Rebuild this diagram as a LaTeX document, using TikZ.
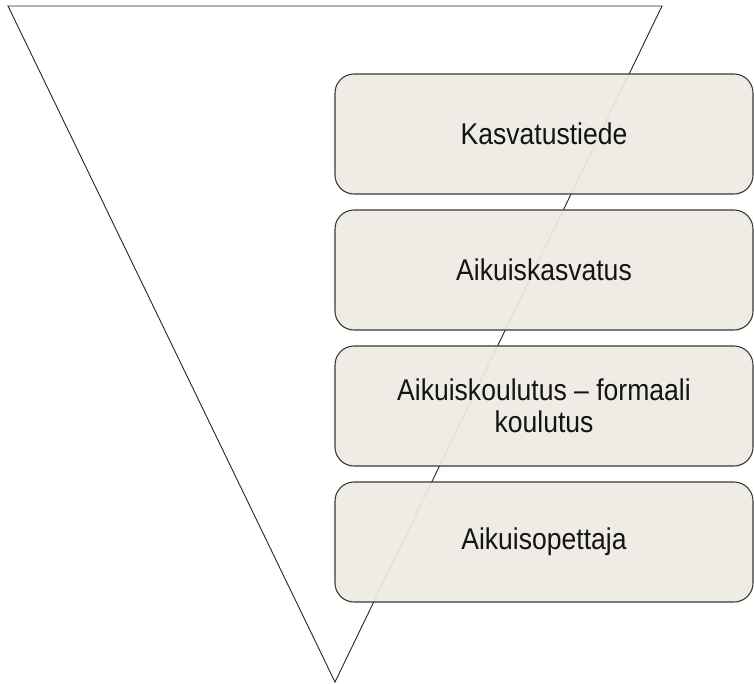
\documentclass[tikz,border=0pt]{standalone}
\usepackage{fontspec}
\newfontfamily\boxfont[FakeStretch=0.885]{Liberation Sans}
\begin{document}
\begin{tikzpicture}[x=1pt,y=-1pt,
  funnel/.style={draw=black!85, line width=0.9pt, line join=miter},
  level/.style={draw=black!78, line width=1.1pt, rounded corners=19pt,
    fill=levelfill, fill opacity=0.93, text opacity=1,
    minimum width=418pt, minimum height=120pt, inner sep=0pt,
    align=center, font=\boxfont\fontsize{30}{31.5}\selectfont, text=black!92}]
\definecolor{levelfill}{HTML}{EDEBE3}
\useasboundingbox (0,0) rectangle (754,683);
% inverted triangle behind the levels
\coordinate (tl) at (8,6);
\coordinate (tr) at (662,6);
\coordinate (apex) at (335,682);
\draw[funnel] (tl) -- (tr) -- (apex) -- cycle;
% the four levels
\node[level] (k1) at (544,134) {Kasvatustiede};
\node[level] (k2) at (544,270) {Aikuiskasvatus};
\node[level] (k3) at (544,406) {Aikuiskoulutus – formaali\\koulutus};
\node[level] (k4) at (544,542) {Aikuisopettaja};
\end{tikzpicture}
\end{document}
